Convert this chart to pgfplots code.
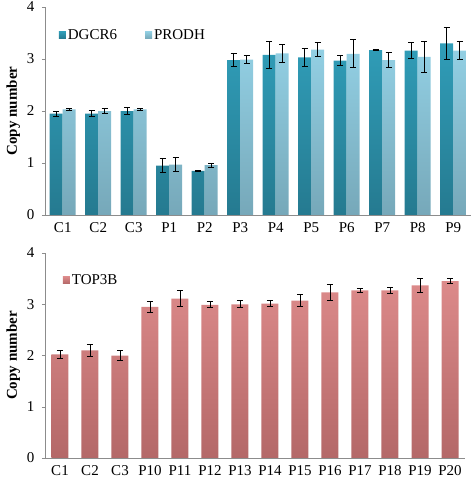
\documentclass[border=0pt]{standalone}
\usepackage{pgfplots}
\pgfplotsset{compat=1.18}
\usepackage{fontspec}
\setmainfont{Liberation Serif}
\definecolor{dgT}{HTML}{309DB8}
\definecolor{dgB}{HTML}{257A90}
\definecolor{prT}{HTML}{92CFE3}
\definecolor{prB}{HTML}{76A8B9}
\definecolor{tpT}{HTML}{DC8A8A}
\definecolor{tpB}{HTML}{B46868}
\definecolor{axgray}{HTML}{8C8C8C}
\pgfplotsset{
  common/.style={
    scale only axis,
    axis lines=left,
    axis line style={axgray,-},
    ymin=0, ymax=4, ytick={0,1,2,3,4},
    xtick=data,
    major x tick style={draw=none},
    major y tick style={axgray},
    tick align=outside,
    major tick length=3pt,
    font=\fontsize{15}{17}\selectfont,
    ticklabel style={font=\fontsize{15}{17}\selectfont},
    yticklabel style={xshift=-4pt},
    xticklabel style={yshift=-1pt},
    /pgf/number format/assume math mode=true,
    ylabel={\textbf{Copy number}},
    ylabel style={font=\fontsize{15}{17}\selectfont},
    every axis y label/.style={at={(ticklabel cs:0.5)},rotate=90,anchor=south},
    legend style={draw=none,fill=none,font=\fontsize{15}{17}\selectfont},
    legend cell align=left,
    error bars/error bar style={black,line width=0.9pt},
    error bars/error mark options={black,line width=0.9pt,rotate=90,mark size=3pt},
  }
}
\begin{document}
\begin{tikzpicture}
\path[use as bounding box] (-45pt,-25pt) rectangle (427pt,458pt);
% top
\begin{axis}[common,
  at={(0pt,243pt)},
  width=426pt, height=208pt,
  xmin=-0.5, xmax=11.5,
  xticklabels={C1,C2,C3,P1,P2,P3,P4,P5,P6,P7,P8,P9},
  ybar, bar width=13pt,
  legend style={at={(0.025,0.865)},anchor=west,legend columns=2,
    /tikz/every even column/.append style={column sep=26pt}},
]
\addplot[draw=none, top color=dgT, bottom color=dgB, bar shift=-6.5pt,
  legend image code/.code={\fill[dgT!85!black] (0pt,-3.5pt) rectangle (7pt,3.5pt);},
  error bars/.cd, y dir=both, y explicit]
coordinates {
(0,1.95) +- (0,0.05)
(1,1.95) +- (0,0.06)
(2,2.00) +- (0,0.07)
(3,0.95) +- (0,0.14)
(4,0.85) +- (0,0.01)
(5,2.98) +- (0,0.12)
(6,3.08) +- (0,0.26)
(7,3.03) +- (0,0.18)
(8,2.97) +- (0,0.10)
(9,3.17) +- (0,0.01)
(10,3.16) +- (0,0.15)
(11,3.30) +- (0,0.30)
};
\addplot[draw=none, top color=prT, bottom color=prB, bar shift=6.5pt,
  legend image code/.code={\fill[prT!85!black] (0pt,-3.5pt) rectangle (7pt,3.5pt);},
  error bars/.cd, y dir=both, y explicit]
coordinates {
(0,2.03) +- (0,0.01)
(1,2.00) +- (0,0.05)
(2,2.03) +- (0,0.01)
(3,0.97) +- (0,0.14)
(4,0.96) +- (0,0.04)
(5,2.99) +- (0,0.07)
(6,3.11) +- (0,0.17)
(7,3.18) +- (0,0.13)
(8,3.10) +- (0,0.27)
(9,2.98) +- (0,0.15)
(10,3.04) +- (0,0.30)
(11,3.16) +- (0,0.17)
};
\legend{DGCR6,PRODH}
\end{axis}
% bottom
\begin{axis}[common,
  at={(0pt,0pt)},
  width=420pt, height=205pt,
  xmin=-0.5, xmax=13.5,
  xticklabels={C1,C2,C3,P10,P11,P12,P13,P14,P15,P16,P17,P18,P19,P20},
  ybar, bar width=17pt,
  legend style={at={(0.035,0.868)},anchor=west},
]
\addplot[draw=none, top color=tpT, bottom color=tpB, bar shift=0pt,
  legend image code/.code={\fill[tpT!90!black] (0pt,-3.5pt) rectangle (7pt,3.5pt);},
  error bars/.cd, y dir=both, y explicit]
coordinates {
(0,2.02) +- (0,0.07)
(1,2.10) +- (0,0.12)
(2,2.00) +- (0,0.10)
(3,2.95) +- (0,0.11)
(4,3.11) +- (0,0.16)
(5,2.99) +- (0,0.06)
(6,3.00) +- (0,0.07)
(7,3.01) +- (0,0.06)
(8,3.07) +- (0,0.12)
(9,3.23) +- (0,0.16)
(10,3.27) +- (0,0.03)
(11,3.27) +- (0,0.05)
(12,3.37) +- (0,0.14)
(13,3.45) +- (0,0.05)
};
\legend{TOP3B}
\end{axis}
\end{tikzpicture}
\end{document}
